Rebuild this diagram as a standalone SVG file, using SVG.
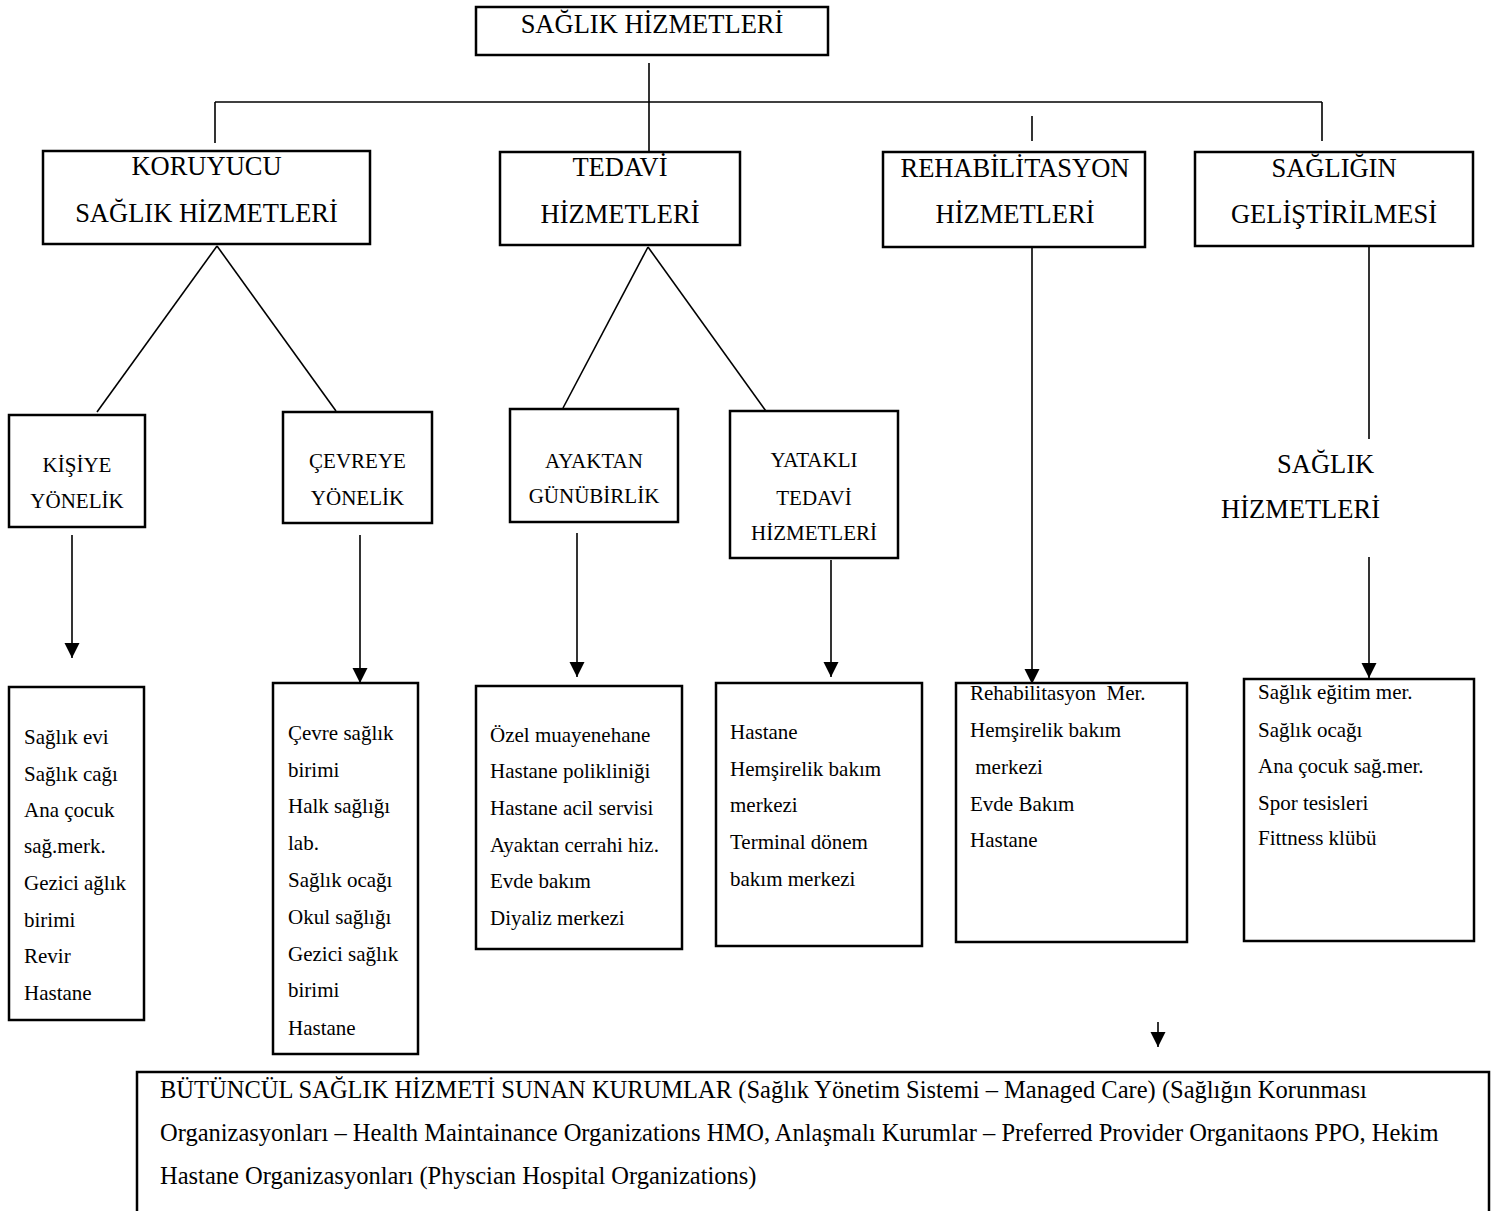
<svg xmlns="http://www.w3.org/2000/svg" width="1497" height="1211" viewBox="0 0 1497 1211">
<style>
.box{fill:#fff;stroke:#000;stroke-width:2.5}
.ln{stroke:#000;stroke-width:1.6;fill:none}
text{font-family:'Liberation Serif','Times New Roman',serif;fill:#000}
.t1{font-size:26.5px}
.t2{font-size:21px}
.t3{font-size:24.5px}
.c{text-anchor:middle}
.pre{white-space:pre}
</style>
<defs>
<marker id="ah" markerUnits="userSpaceOnUse" markerWidth="16" markerHeight="16" refX="15" refY="7.5" orient="auto">
<path d="M0,0 L15,7.5 L0,15 Z" fill="#000"/>
</marker>
</defs>
<rect width="1497" height="1211" fill="#fff"/>
<g id="connectors">
<line class="ln" x1="649" y1="63" x2="649" y2="152"/>
<line class="ln" x1="215" y1="102" x2="1322" y2="102"/>
<line class="ln" x1="215" y1="102" x2="215" y2="143"/>
<line class="ln" x1="1032" y1="116" x2="1032" y2="141"/>
<line class="ln" x1="1322" y1="102" x2="1322" y2="141"/>
<line class="ln" x1="217" y1="246" x2="97" y2="412"/>
<line class="ln" x1="217" y1="246" x2="336" y2="411"/>
<line class="ln" x1="648" y1="247" x2="563" y2="408"/>
<line class="ln" x1="648" y1="247" x2="768" y2="414"/>
<line class="ln" x1="1369" y1="247" x2="1369" y2="439"/>
<line class="ln" x1="72" y1="535" x2="72" y2="658" marker-end="url(#ah)"/>
<line class="ln" x1="360" y1="535" x2="360" y2="683" marker-end="url(#ah)"/>
<line class="ln" x1="577" y1="533" x2="577" y2="677" marker-end="url(#ah)"/>
<line class="ln" x1="831" y1="560" x2="831" y2="677" marker-end="url(#ah)"/>
<line class="ln" x1="1032" y1="247" x2="1032" y2="684" marker-end="url(#ah)"/>
<line class="ln" x1="1369" y1="557" x2="1369" y2="678" marker-end="url(#ah)"/>
<line class="ln" x1="1158" y1="1022" x2="1158" y2="1047" marker-end="url(#ah)"/>
</g>
<g id="root">
<rect class="box" x="476" y="7" width="352" height="48"/>
<text class="t1 c" x="652" y="33">SAĞLIK HİZMETLERİ</text>
</g>
<g id="koruyucu">
<rect class="box" x="43" y="151" width="327" height="93"/>
<text class="t1 c" x="206.5" y="175">KORUYUCU</text>
<text class="t1 c" x="206.5" y="222">SAĞLIK HİZMETLERİ</text>
</g>
<g id="tedavi">
<rect class="box" x="500" y="152" width="240" height="93"/>
<text class="t1 c" x="620" y="176">TEDAVİ</text>
<text class="t1 c" x="620" y="223">HİZMETLERİ</text>
</g>
<g id="rehabilitasyon">
<rect class="box" x="883" y="152" width="262" height="95"/>
<text class="t1 c" x="1015" y="177">REHABİLİTASYON</text>
<text class="t1 c" x="1015" y="223">HİZMETLERİ</text>
</g>
<g id="gelistirme">
<rect class="box" x="1195" y="152" width="278" height="94"/>
<text class="t1 c" x="1334" y="177">SAĞLIĞIN</text>
<text class="t1 c" x="1334" y="223">GELİŞTİRİLMESİ</text>
</g>
<g id="kisiye">
<rect class="box" x="9" y="415" width="136" height="112"/>
<text class="t2 c" x="77" y="472">KİŞİYE</text>
<text class="t2 c" x="77" y="508">YÖNELİK</text>
</g>
<g id="cevreye">
<rect class="box" x="283" y="412" width="149" height="111"/>
<text class="t2 c" x="357.5" y="468">ÇEVREYE</text>
<text class="t2 c" x="357.5" y="505">YÖNELİK</text>
</g>
<g id="ayaktan">
<rect class="box" x="510" y="409" width="168" height="113"/>
<text class="t2 c" x="594" y="468">AYAKTAN</text>
<text class="t2 c" x="594" y="503">GÜNÜBİRLİK</text>
</g>
<g id="yatakli">
<rect class="box" x="730" y="411" width="168" height="147"/>
<text class="t2 c" x="814" y="467">YATAKLI</text>
<text class="t2 c" x="814" y="505">TEDAVİ</text>
<text class="t2 c" x="814" y="540">HİZMETLERİ</text>
</g>
<g id="saglik-hizmetleri-label">
<text class="t1" x="1277" y="473">SAĞLIK</text>
<text class="t1" x="1221" y="518">HİZMETLERİ</text>
</g>
<g id="list-kisiye">
<rect class="box" x="9" y="687" width="135" height="333"/>
<text class="t2" x="24" y="744">Sağlık evi</text>
<text class="t2" x="24" y="781">Sağlık cağı</text>
<text class="t2" x="24" y="817">Ana çocuk</text>
<text class="t2" x="24" y="853">sağ.merk.</text>
<text class="t2" x="24" y="890">Gezici ağlık</text>
<text class="t2" x="24" y="927">birimi</text>
<text class="t2" x="24" y="963">Revir</text>
<text class="t2" x="24" y="1000">Hastane</text>
</g>
<g id="list-cevreye">
<rect class="box" x="273" y="683" width="145" height="371"/>
<text class="t2" x="288" y="740">Çevre sağlık</text>
<text class="t2" x="288" y="777">birimi</text>
<text class="t2" x="288" y="813">Halk sağlığı</text>
<text class="t2" x="288" y="850">lab.</text>
<text class="t2" x="288" y="887">Sağlık ocağı</text>
<text class="t2" x="288" y="924">Okul sağlığı</text>
<text class="t2" x="288" y="961">Gezici sağlık</text>
<text class="t2" x="288" y="997">birimi</text>
<text class="t2" x="288" y="1035">Hastane</text>
</g>
<g id="list-ayaktan">
<rect class="box" x="476" y="686" width="206" height="263"/>
<text class="t2" x="490" y="742">Özel muayenehane</text>
<text class="t2" x="490" y="778">Hastane polikliniği</text>
<text class="t2" x="490" y="815">Hastane acil servisi</text>
<text class="t2" x="490" y="852">Ayaktan cerrahi hiz.</text>
<text class="t2" x="490" y="888">Evde bakım</text>
<text class="t2" x="490" y="925">Diyaliz merkezi</text>
</g>
<g id="list-yatakli">
<rect class="box" x="716" y="683" width="206" height="263"/>
<text class="t2" x="730" y="739">Hastane</text>
<text class="t2" x="730" y="776">Hemşirelik bakım</text>
<text class="t2" x="730" y="812">merkezi</text>
<text class="t2" x="730" y="849">Terminal dönem</text>
<text class="t2" x="730" y="886">bakım merkezi</text>
</g>
<g id="list-rehabilitasyon">
<rect class="box" x="956" y="683" width="231" height="259"/>
<text class="t2 pre" x="970" y="700">Rehabilitasyon  Mer.</text>
<text class="t2" x="970" y="737">Hemşirelik bakım</text>
<text class="t2 pre" x="970" y="774"> merkezi</text>
<text class="t2" x="970" y="811">Evde Bakım</text>
<text class="t2" x="970" y="847">Hastane</text>
</g>
<g id="list-gelistirme">
<rect class="box" x="1244" y="679" width="230" height="262"/>
<text class="t2" x="1258" y="699">Sağlık eğitim mer.</text>
<text class="t2" x="1258" y="737">Sağlık ocağı</text>
<text class="t2" x="1258" y="773">Ana çocuk sağ.mer.</text>
<text class="t2" x="1258" y="810">Spor tesisleri</text>
<text class="t2" x="1258" y="845">Fittness klübü</text>
</g>
<g id="butuncul">
<rect class="box" x="137" y="1072" width="1352" height="170"/>
<text class="t3" x="160" y="1098">BÜTÜNCÜL SAĞLIK HİZMETİ SUNAN KURUMLAR (Sağlık Yönetim Sistemi – Managed Care) (Sağlığın Korunması</text>
<text class="t3" x="160" y="1141">Organizasyonları – Health Maintainance Organizations HMO, Anlaşmalı Kurumlar – Preferred Provider Organitaons PPO, Hekim</text>
<text class="t3" x="160" y="1184">Hastane Organizasyonları (Physcian Hospital Organizations)</text>
</g>
</svg>
